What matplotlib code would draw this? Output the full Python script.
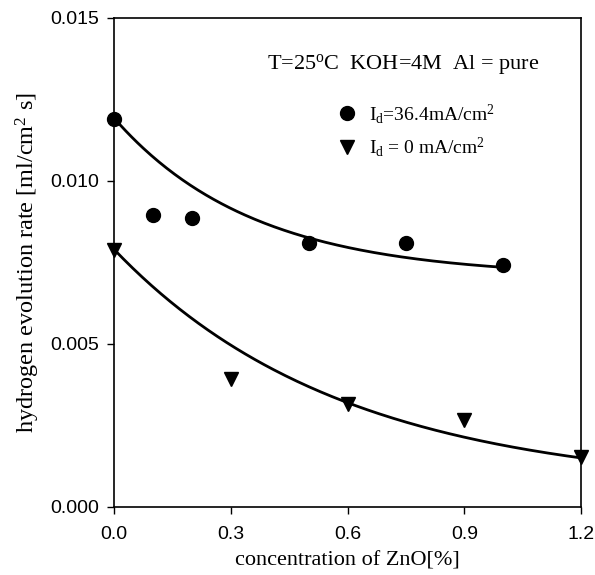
import numpy as np
import matplotlib
matplotlib.use('Agg')
import matplotlib.pyplot as plt

plt.rcParams['mathtext.fontset'] = 'custom'
plt.rcParams['mathtext.rm'] = 'Liberation Serif'
plt.rcParams['mathtext.it'] = 'Liberation Serif:italic'

# data
x_on = [0.0, 0.1, 0.2, 0.5, 0.75, 1.0]
y_on = [0.0119, 0.00895, 0.00887, 0.0081, 0.0081, 0.00742]
x_off = [0.0, 0.3, 0.6, 0.9, 1.2]
y_off = [0.00788, 0.00393, 0.00316, 0.00267, 0.00151]

# exponential decay fits y = y0 + a*exp(-b*x), parameters estimated from the drawn curves
fit_on = (0.00705, 0.00488, 2.8)
fit_off = (0.00054, 0.00736, 1.7)

xticks = [0.0, 0.3, 0.6, 0.9, 1.2]
yticks = [0.000, 0.005, 0.010, 0.015]

fig = plt.figure(figsize=(5.95, 5.75), dpi=100)
ax = fig.add_axes([0.1916, 0.1188, 0.7849, 0.8499])

def decay(p, x):
    return p[0] + p[1] * np.exp(-p[2] * x)

xc = np.linspace(0, max(x_on), 200)
ax.plot(xc, decay(fit_on, xc), color='black', lw=2)
xc = np.linspace(0, max(x_off), 200)
ax.plot(xc, decay(fit_off, xc), color='black', lw=2)

h1, = ax.plot(x_on, y_on, 'o', color='black', ms=10, clip_on=False, zorder=5)
h2, = ax.plot(x_off, y_off, 'v', color='black', ms=10, clip_on=False, zorder=5)

ax.set_xlim(0, 1.2)
ax.set_ylim(0, 0.015)
ax.set_xticks(xticks)
ax.set_yticks(yticks)
ax.set_xticklabels(['%.1f' % v for v in xticks], fontsize=14, family='Liberation Sans')
ax.set_yticklabels(['%.3f' % v for v in yticks], fontsize=14, family='Liberation Sans')
ax.tick_params(direction='out', length=5, width=1, pad=6)
ax.tick_params(axis='x', pad=9)
for s in ax.spines.values():
    s.set_linewidth(1.2)

ax.set_xlabel('concentration of ZnO[%]', family='Liberation Serif', fontsize=16, labelpad=6)
ax.set_ylabel(r'hydrogen evolution rate [ml/cm$^2$ s]', family='Liberation Serif',
              fontsize=17.5, labelpad=6)

ax.text(0.328, 0.904, r'T=25$^\mathrm{o}$C  KOH=4M  Al = pure', transform=ax.transAxes,
        family='Liberation Serif', fontsize=16, va='center')

leg = ax.legend([h1, h2], [r'I$_\mathrm{d}$=36.4mA/cm$^2$', r'I$_\mathrm{d}$ = 0 mA/cm$^2$'],
                loc='upper left', bbox_to_anchor=(0.43, 0.864), frameon=False,
                prop={'family': 'Liberation Serif', 'size': 14},
                handlelength=1.5, handletextpad=0.4, labelspacing=0.5)

fig.savefig('out.png', dpi=100)
